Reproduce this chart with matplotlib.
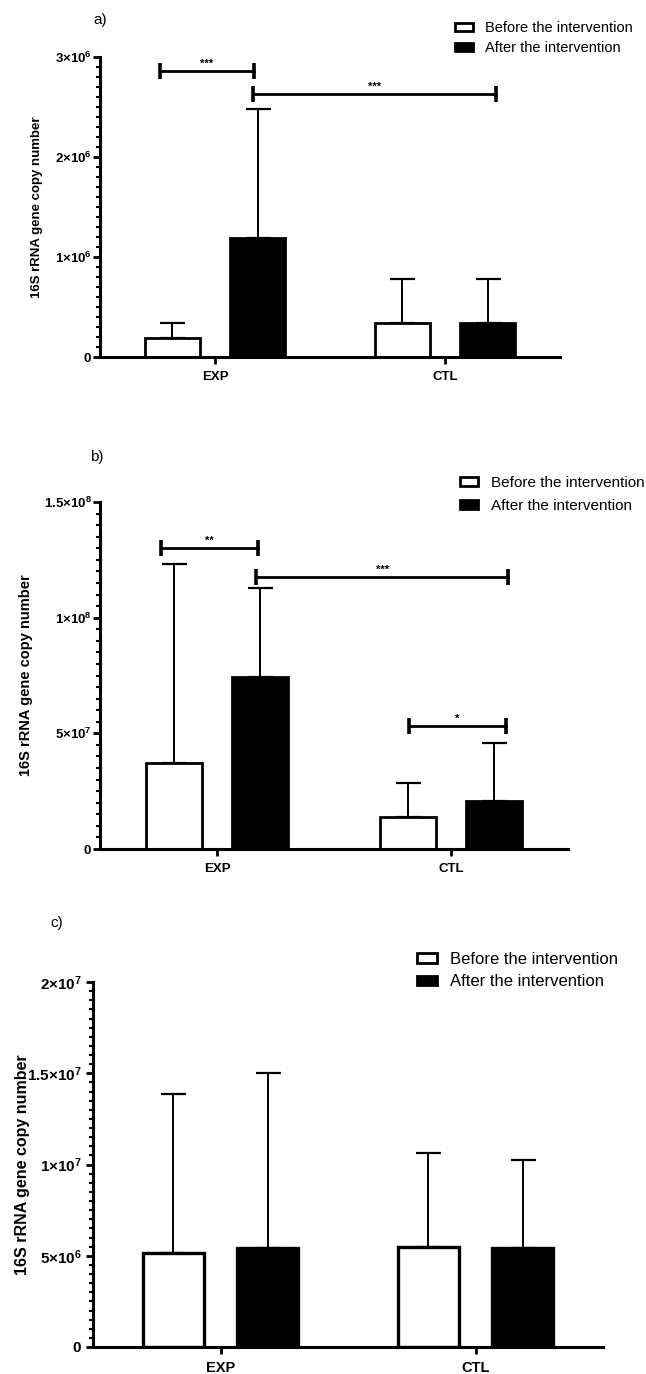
import matplotlib
matplotlib.use('Agg')
import matplotlib.pyplot as plt
from matplotlib.patches import Patch
from matplotlib.ticker import MultipleLocator
import numpy as np

plt.rcParams['font.family'] = ['Liberation Sans', 'DejaVu Sans']
plt.rcParams['mathtext.fontset'] = 'custom'
plt.rcParams['mathtext.rm'] = 'Liberation Sans'
plt.rcParams['mathtext.bf'] = 'Liberation Sans:bold'
plt.rcParams['mathtext.it'] = 'Liberation Sans:italic'

groups = ['EXP', 'CTL']
series = ['Before the intervention', 'After the intervention']

# ---- panel a ----
a_before = [0.19e6, 0.34e6]
a_before_sd = [0.15e6, 0.44e6]
a_after = [1.19e6, 0.34e6]
a_after_sd = [1.29e6, 0.44e6]
a_yticks = [0, 1e6, 2e6, 3e6]
a_yticklabels = [r'$\mathbf{0}$', r'$\mathbf{1{\times}10^{6}}$',
                 r'$\mathbf{2{\times}10^{6}}$', r'$\mathbf{3{\times}10^{6}}$']
a_sig_x0 = [-0.24, 0.165]
a_sig_x1 = [0.17, 1.22]
a_sig_y = [2.86e6, 2.63e6]
a_sig_txt = ['***', '***']

# ---- panel b ----
b_before = [3.7e7, 1.38e7]
b_before_sd = [8.6e7, 1.47e7]
b_after = [7.43e7, 2.07e7]
b_after_sd = [3.87e7, 2.51e7]
b_yticks = [0, 5e7, 1e8, 1.5e8]
b_yticklabels = [r'$\mathbf{0}$', r'$\mathbf{5{\times}10^{7}}$',
                 r'$\mathbf{1{\times}10^{8}}$', r'$\mathbf{1.5{\times}10^{8}}$']
b_sig_x0 = [-0.24, 0.167, 0.82]
b_sig_x1 = [0.175, 1.245, 1.235]
b_sig_y = [1.30e8, 1.175e8, 0.531e8]
b_sig_txt = ['**', '***', '*']

# ---- panel c ----
c_before = [5.15e6, 5.5e6]
c_before_sd = [8.71e6, 5.13e6]
c_after = [5.45e6, 5.4e6]
c_after_sd = [9.55e6, 4.85e6]
c_yticks = [0, 5e6, 1e7, 1.5e7, 2e7]
c_yticklabels = [r'$\mathbf{0}$', r'$\mathbf{5{\times}10^{6}}$', r'$\mathbf{1{\times}10^{7}}$',
                 r'$\mathbf{1.5{\times}10^{7}}$', r'$\mathbf{2{\times}10^{7}}$']

W, H = 646, 1374
fig = plt.figure(figsize=(W / 100, H / 100), dpi=100)


def px_rect(left, top, right, bottom):
    return [left / W, 1 - bottom / H, (right - left) / W, (bottom - top) / H]


def panel(rect, before, bsd, after, asd, yticks, ylabels, minor,
          tick_fs, xlab_fs, ylab_fs, ylab_x, edge_lw=2, tick_pad=1, sig=None):
    ax = fig.add_axes(rect)
    x = np.arange(len(groups))
    off, w = 0.185, 0.24
    ax.errorbar(x - off, before, yerr=[np.zeros(len(x)), bsd], fmt='none',
                ecolor='black', elinewidth=1.4, capsize=9, capthick=1.6, zorder=1)
    ax.errorbar(x + off, after, yerr=[np.zeros(len(x)), asd], fmt='none',
                ecolor='black', elinewidth=1.4, capsize=9, capthick=1.6, zorder=1)
    ax.bar(x - off, before, w, color='white', edgecolor='black', linewidth=edge_lw, zorder=2)
    ax.bar(x + off, after, w, color='black', edgecolor='black', linewidth=edge_lw, zorder=2)
    ax.set_xlim(-0.5, 1.5)
    ax.set_ylim(yticks[0], yticks[-1])
    ax.set_xticks(x, groups)
    ax.set_yticks(yticks, ylabels)
    ax.yaxis.set_minor_locator(MultipleLocator(minor))
    for s in ['top', 'right']:
        ax.spines[s].set_visible(False)
    for s in ['left', 'bottom']:
        ax.spines[s].set_linewidth(2.2)
    ax.tick_params(axis='y', which='major', length=5, width=2, labelsize=tick_fs, pad=tick_pad)
    ax.tick_params(axis='y', which='minor', length=3, width=1.5)
    ax.tick_params(axis='x', length=5, width=2, labelsize=xlab_fs, pad=5)
    for lab in ax.get_xticklabels():
        lab.set_fontweight('bold')
    ax.patch.set_alpha(0)
    r = ax.get_position()
    fig.text(ylab_x / W, r.y0 + r.height / 2, '16S rRNA gene copy number',
             rotation=90, ha='center', va='center', fontsize=ylab_fs, fontweight='bold')
    if sig is not None:
        for x0, x1, y, t in zip(*sig):
            ax.plot([x0, x1], [y, y], color='black', lw=2, marker='|',
                    markersize=11, markeredgewidth=2.6, clip_on=False, zorder=3)
            ax.annotate(t, xy=((x0 + x1) / 2, y), xytext=(0, 1.5),
                        textcoords='offset points', ha='center', va='bottom',
                        fontsize=8, fontweight='bold')
    return ax


def legend(x, y, fs, hl, hh, ls, pad):
    handles = [Patch(facecolor='white', edgecolor='black', linewidth=2),
               Patch(facecolor='black', edgecolor='black', linewidth=2)]
    fig.legend(handles, series, loc='upper left', bbox_to_anchor=(x / W, 1 - y / H),
               frameon=False, fontsize=fs, handlelength=hl, handleheight=hh,
               labelspacing=ls, handletextpad=pad, borderpad=0, borderaxespad=0)


# panel a
panel(px_rect(100, 57, 560, 357), a_before, a_before_sd, a_after, a_after_sd,
      a_yticks, a_yticklabels, 1e5, 9.5, 9.5, 9.5, 37,
      sig=(a_sig_x0, a_sig_x1, a_sig_y, a_sig_txt))
legend(455, 21, 10.5, 1.25, 0.5, 0.4, 0.8)
fig.text(93 / W, 1 - 20 / H, 'a)', fontsize=11, ha='left', va='center')

# panel b
panel(px_rect(100, 502, 568, 849), b_before, b_before_sd, b_after, b_after_sd,
      b_yticks, b_yticklabels, 5e6, 9.5, 9.5, 10.5, 26,
      sig=(b_sig_x0, b_sig_x1, b_sig_y, b_sig_txt))
legend(460, 476, 11, 1.15, 0.5, 0.6, 0.85)
fig.text(90 / W, 1 - 457 / H, 'b)', fontsize=11, ha='left', va='center')

# panel c
panel(px_rect(93, 982, 603, 1347), c_before, c_before_sd, c_after, c_after_sd,
      c_yticks, c_yticklabels, 5e5, 11, 10.5, 11.5, 23, edge_lw=2.4, tick_pad=3)
legend(417, 952, 12, 1.2, 0.5, 0.45, 0.8)
fig.text(50 / W, 1 - 923 / H, 'c)', fontsize=11, ha='left', va='center')

fig.savefig('out.png', dpi=100)
